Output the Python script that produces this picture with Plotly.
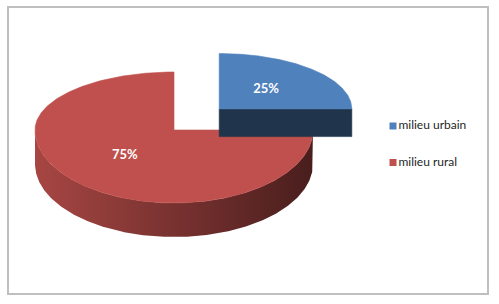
import numpy as np
import plotly.graph_objects as go

# ---- data ----
categories = ["milieu urbain", "milieu rural"]
values = [25, 75]
top_colors = ["#4F81BD", "#C0504D"]
explode = [0.46, 0.0]

# ---- geometry (pixel space) ----
W, H = 499, 304
CX, CY = 174.0, 130.0          # pie centre (projected)
RX, RY_BACK, RY_FRONT = 139.0, 58.0, 73.0
RY_MID = 65.0
THICK = 34.0
LABEL_FRAC = 0.5


def hex_to_rgb(h):
    h = h.lstrip("#")
    return tuple(int(h[i:i + 2], 16) for i in (0, 2, 4))


def shade(h, f):
    r, g, b = hex_to_rgb(h)
    return "rgb(%d,%d,%d)" % (round(r * f), round(g * f), round(b * f))


def rim(theta, cx, cy, s):
    x = cx + s * RX * np.cos(theta)
    sn = np.sin(theta)
    ry = np.where(sn >= 0, RY_BACK, RY_FRONT)
    y = cy - s * ry * sn
    return x, y


total = float(sum(values))
slices = []
cum = 0.0
for i, v in enumerate(values):
    a0 = np.pi / 2 - 2 * np.pi * cum / total
    cum += v
    a1 = np.pi / 2 - 2 * np.pi * cum / total
    mid = (a0 + a1) / 2
    e = explode[i]
    cx = CX + e * RX * np.cos(mid)
    cy = CY - e * RY_MID * np.sin(mid)
    s = 1 - 0.1 * e
    t = THICK * (1 - 0.4 * e)
    slices.append(dict(i=i, a0=a0, a1=a1, mid=mid, cx=cx, cy=cy, s=s, t=t))

fig = go.Figure()


def add_poly(xs, ys, color=None, gradient=None):
    kw = dict(x=list(xs) + [xs[0]], y=list(ys) + [ys[0]], mode="lines",
              fill="toself", showlegend=False, hoverinfo="skip")
    if gradient is not None:
        kw["fillgradient"] = dict(type="horizontal", colorscale=gradient)
        kw["line"] = dict(width=0)
    else:
        kw["fillcolor"] = color
        kw["line"] = dict(width=0.6, color=color)
    fig.add_trace(go.Scatter(**kw))


# draw back-to-front: rural first, urbain (exploded, back) on top
for sl in reversed(slices):
    i = sl["i"]
    col = top_colors[i]
    cx, cy, s, t = sl["cx"], sl["cy"], sl["s"], sl["t"]
    a0, a1 = sl["a0"], sl["a1"]

    # outer side (front half of the rim)
    th = np.linspace(a1, a0, 400)
    front = np.sin(th) <= 0
    if front.any():
        thf = th[front]
        xt, yt = rim(thf, cx, cy, s)
        xs = np.concatenate([xt, xt[::-1]])
        ys = np.concatenate([yt, (yt + t)[::-1]])
        add_poly(xs, ys, gradient=[[0, shade(col, 0.87)], [1, shade(col, 0.38)]])

    # radial walls
    for phi, sign in ((a0, 1), (a1, -1)):
        ny = sign * np.cos(phi)
        if ny < -1e-6:
            rx_, ry_ = rim(np.array([phi]), cx, cy, s)
            xs = [cx, rx_[0], rx_[0], cx]
            ys = [cy, ry_[0], ry_[0] + t, cy + t]
            add_poly(xs, ys, color=shade(col, 0.40))

    # top face
    th = np.linspace(a0, a1, 300)
    xt, yt = rim(th, cx, cy, s)
    xs = np.concatenate([[cx], xt])
    ys = np.concatenate([[cy], yt])
    add_poly(xs, ys, color=col)

# percentage labels
lx, ly, lt = [], [], []
for sl in slices:
    x, y = rim(np.array([sl["mid"]]), 0, 0, sl["s"] * LABEL_FRAC)
    lx.append(sl["cx"] + x[0])
    ly.append(sl["cy"] + y[0])
    lt.append("%d%%" % round(100 * values[sl["i"]] / total))
fig.add_trace(go.Scatter(x=lx, y=ly, text=lt, mode="text", showlegend=False,
                         hoverinfo="skip",
                         textfont=dict(family="Lato", size=13, color="white",
                                       weight="bold")))

# legend (manual, to match layout)
LEG_X, LEG_Y0, LEG_DY = 393, 126, 36.5
fig.add_trace(go.Scatter(
    x=[LEG_X] * len(categories),
    y=[LEG_Y0 + k * LEG_DY for k in range(len(categories))],
    text=categories, mode="markers+text", textposition="middle right",
    marker=dict(symbol="square", size=7, color=top_colors),
    textfont=dict(family="Lato", size=12, color="#262626"),
    showlegend=False, hoverinfo="skip"))

fig.add_shape(type="rect", x0=8, y0=7, x1=488, y1=294, xref="x", yref="y",
              line=dict(color="#BFBFBF", width=2))

fig.update_layout(
    width=W, height=H, margin=dict(l=0, r=0, t=0, b=0, pad=0),
    paper_bgcolor="white", plot_bgcolor="white",
    xaxis=dict(range=[0, W], visible=False, fixedrange=True),
    yaxis=dict(range=[H, 0], visible=False, fixedrange=True),
    showlegend=False,
)

fig.write_html("out.html")
